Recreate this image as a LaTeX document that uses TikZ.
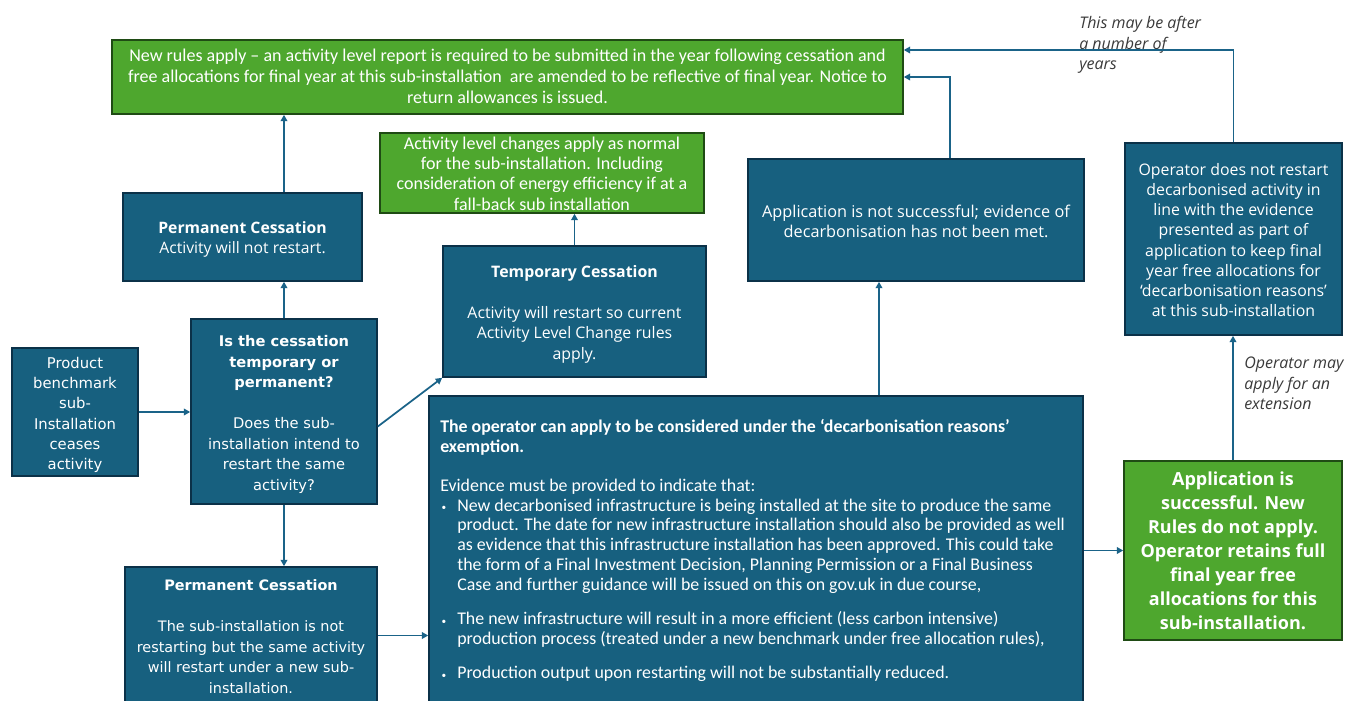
\documentclass[tikz,border=0pt]{standalone}
\usepackage{fontspec}
\setmainfont{Carlito}
\newfontfamily\osans{Open Sans}
\newfontfamily\dvs{DejaVu Sans}
\usetikzlibrary{arrows.meta,fit,calc}
\definecolor{bfill}{HTML}{17607F}
\definecolor{bline}{HTML}{0B3148}
\definecolor{gfill}{HTML}{4EA72E}
\definecolor{gline}{HTML}{1F4B14}
\definecolor{arr}{HTML}{1A6388}
\definecolor{lbl}{HTML}{3A3A3A}
\newcommand{\mybul}{\makebox[12.75pt][l]{\hspace{1pt}\raisebox{0.5pt}{\scriptsize •}}}
\newcommand{\myind}{\hspace*{12.75pt}}
\begin{document}
\begin{tikzpicture}[x=0.75pt,y=-0.75pt,
 bluebox/.style={draw=bline, fill=bfill, line width=1.2pt, inner sep=0pt},
 greenbox/.style={draw=gline, fill=gfill, line width=1.2pt, inner sep=0pt},
 txt/.style={inner sep=0pt, align=center, text=white},
 conn/.style={draw=arr, line width=1.3pt, -{Triangle[length=4.8pt,width=5pt]}},
 lab/.style={font=\osans\itshape\fontsize{12}{15.4}\selectfont, text=lbl, align=left, anchor=north west, inner sep=0pt}]
\useasboundingbox (0,0) rectangle (1346,700);
\fill[white] (0,0) rectangle (1346,700);
\clip (0,0) rectangle (1346,700);

% boxes
\node[greenbox, fit={(112,40) (903,114)}] (topgreen) {};
\node[greenbox, fit={(380,133) (704,213)}] (green2) {};
\node[bluebox, fit={(123,193) (362,281)}] (permtop) {};
\node[bluebox, fit={(443,246) (706,377)}] (temp) {};
\node[bluebox, fit={(748,159) (1084,281)}] (appnot) {};
\node[bluebox, fit={(1125,143) (1342,335)}] (operator) {};
\node[bluebox, fit={(12,348) (138,476)}] (prod) {};
\node[bluebox, fit={(191,319) (377,504)}] (is) {};
\node[bluebox, fit={(125,567) (377,704)}] (permbot) {};
\node[bluebox, fit={(429,396) (1083,720)}] (big) {};
\node[greenbox, fit={(1124,461) (1342,640)}] (appsucc) {};

% texts
\node[txt, font=\fontsize{13.5}{15.75}\selectfont, yshift=0.75pt] (topgreenT) at (topgreen.center)
 {New rules apply – an activity level report is required to be submitted in the year following cessation and\\
  free allocations for final year at this sub-installation\ \ are amended to be reflective of final year. Notice to\\
  return allowances is issued.};

\node[txt, font=\fontsize{13.5}{15.2}\selectfont, yshift=-0.4pt] (green2T) at (green2.center)
 {Activity level changes apply as normal\\for the sub-installation. Including\\consideration of energy efficiency if at a\\fall-back sub installation};

\node[txt, font=\osans\fontsize{11.8}{15}\selectfont, yshift=-1.5pt] (permtopT) at (permtop.center)
 {\textbf{Permanent Cessation}\\Activity will not restart.};

\node[txt, font=\osans\fontsize{11.9}{15.4}\selectfont, yshift=-2.1pt] (tempT) at (temp.center)
 {\textbf{Temporary Cessation}\\[15.4pt]Activity will restart so current\\Activity Level Change rules\\apply.};

\node[txt, font=\osans\fontsize{12.2}{15}\selectfont, yshift=-1.1pt] (appnotT) at (appnot.center)
 {Application is not successful; evidence of\\decarbonisation has not been met.};

\node[txt, font=\osans\fontsize{11.9}{15.2}\selectfont, yshift=-0.75pt] (operatorT) at (operator.center)
 {Operator does not restart\\decarbonised activity in\\line with the evidence\\presented as part of\\application to keep final\\year free allocations for\\‘decarbonisation reasons’\\at this sub-installation};

\node[txt, font=\dvs\fontsize{11.1}{15.2}\selectfont, yshift=-2.25pt] (prodT) at (prod.center)
 {Product\\benchmark\\sub-\\Installation\\ceases\\activity};

\node[txt, font=\dvs\fontsize{11}{15.4}\selectfont, yshift=-2.25pt] (isT) at (is.center)
 {\textbf{Is the cessation}\\\textbf{temporary or}\\\textbf{permanent?}\\[15.4pt]Does the sub-\\installation intend to\\restart the same\\activity?};

\node[txt, font=\dvs\fontsize{10.8}{15.4}\selectfont, yshift=-0.75pt] (permbotT) at (permbot.center)
 {\textbf{Permanent Cessation}\\[15.4pt]The sub-installation is not\\restarting but the same activity\\will restart under a new sub-\\installation.};

\node[anchor=north west, inner sep=0pt, align=left, text=white, font=\fontsize{13.4}{14.85}\selectfont] (bigT) at (440,419)
 {\textbf{The operator can apply to be considered under the ‘decarbonisation reasons’}\\
  \textbf{exemption.}\\[14.4pt]
  Evidence must be provided to indicate that:\\
  \mybul New decarbonised infrastructure is being installed at the site to produce the same\\
  \myind product. The date for new infrastructure installation should also be provided as well\\
  \myind as evidence that this infrastructure installation has been approved. This could take\\
  \myind the form of a Final Investment Decision, Planning Permission or a Final Business\\
  \myind Case and further guidance will be issued on this on gov.uk in due course,\\[11pt]
  \mybul The new infrastructure will result in a more efficient (less carbon intensive)\\
  \myind production process (treated under a new benchmark under free allocation rules),\\[11pt]
  \mybul Production output upon restarting will not be substantially reduced.};

\node[txt, font=\osans\bfseries\fontsize{13.5}{18}\selectfont, yshift=-0.25pt] (appsuccT) at (appsucc.center)
 {Application is\\successful. New\\Rules do not apply.\\Operator retains full\\final year free\\allocations for this\\sub-installation.};

\node[lab] (lab1) at (1079,16) {This may be after\\a number of\\years};
\node[lab] (lab2) at (1244,357) {Operator may\\apply for an\\extension};

% connectors
\coordinate (u1) at ($(appnot.south)+(-37,0)$);
\coordinate (u2) at ($(appnot.north)+(34,0)$);
\coordinate (u3) at ($(topgreen.east)+(0,-27)$);

\draw[conn] (prod.east) -- (prod.east -| is.west);
\draw[conn] (is.north) -- (is.north |- permtop.south);
\draw[conn] (permtop.north -| is.north) -- (topgreen.south -| is.north);
\draw[conn] ($(is.east)+(0,15)$) -- (temp.south west);
\draw[conn] (temp.north) -- (temp.north |- green2.south);
\draw[conn] (is.south) -- (is.south |- permbot.north);
\draw[conn] (permbot.east) -- (permbot.east -| big.west);
\draw[conn] (u1 |- big.north) -- (u1);
\draw[conn] (u2) |- (topgreen.east);
\draw[conn] (operator.north) |- (u3);
\draw[conn] (appsucc.north) -- (appsucc.north |- operator.south);
\draw[conn] (appsucc.west -| big.east) -- (appsucc.west);
\end{tikzpicture}
\end{document}
